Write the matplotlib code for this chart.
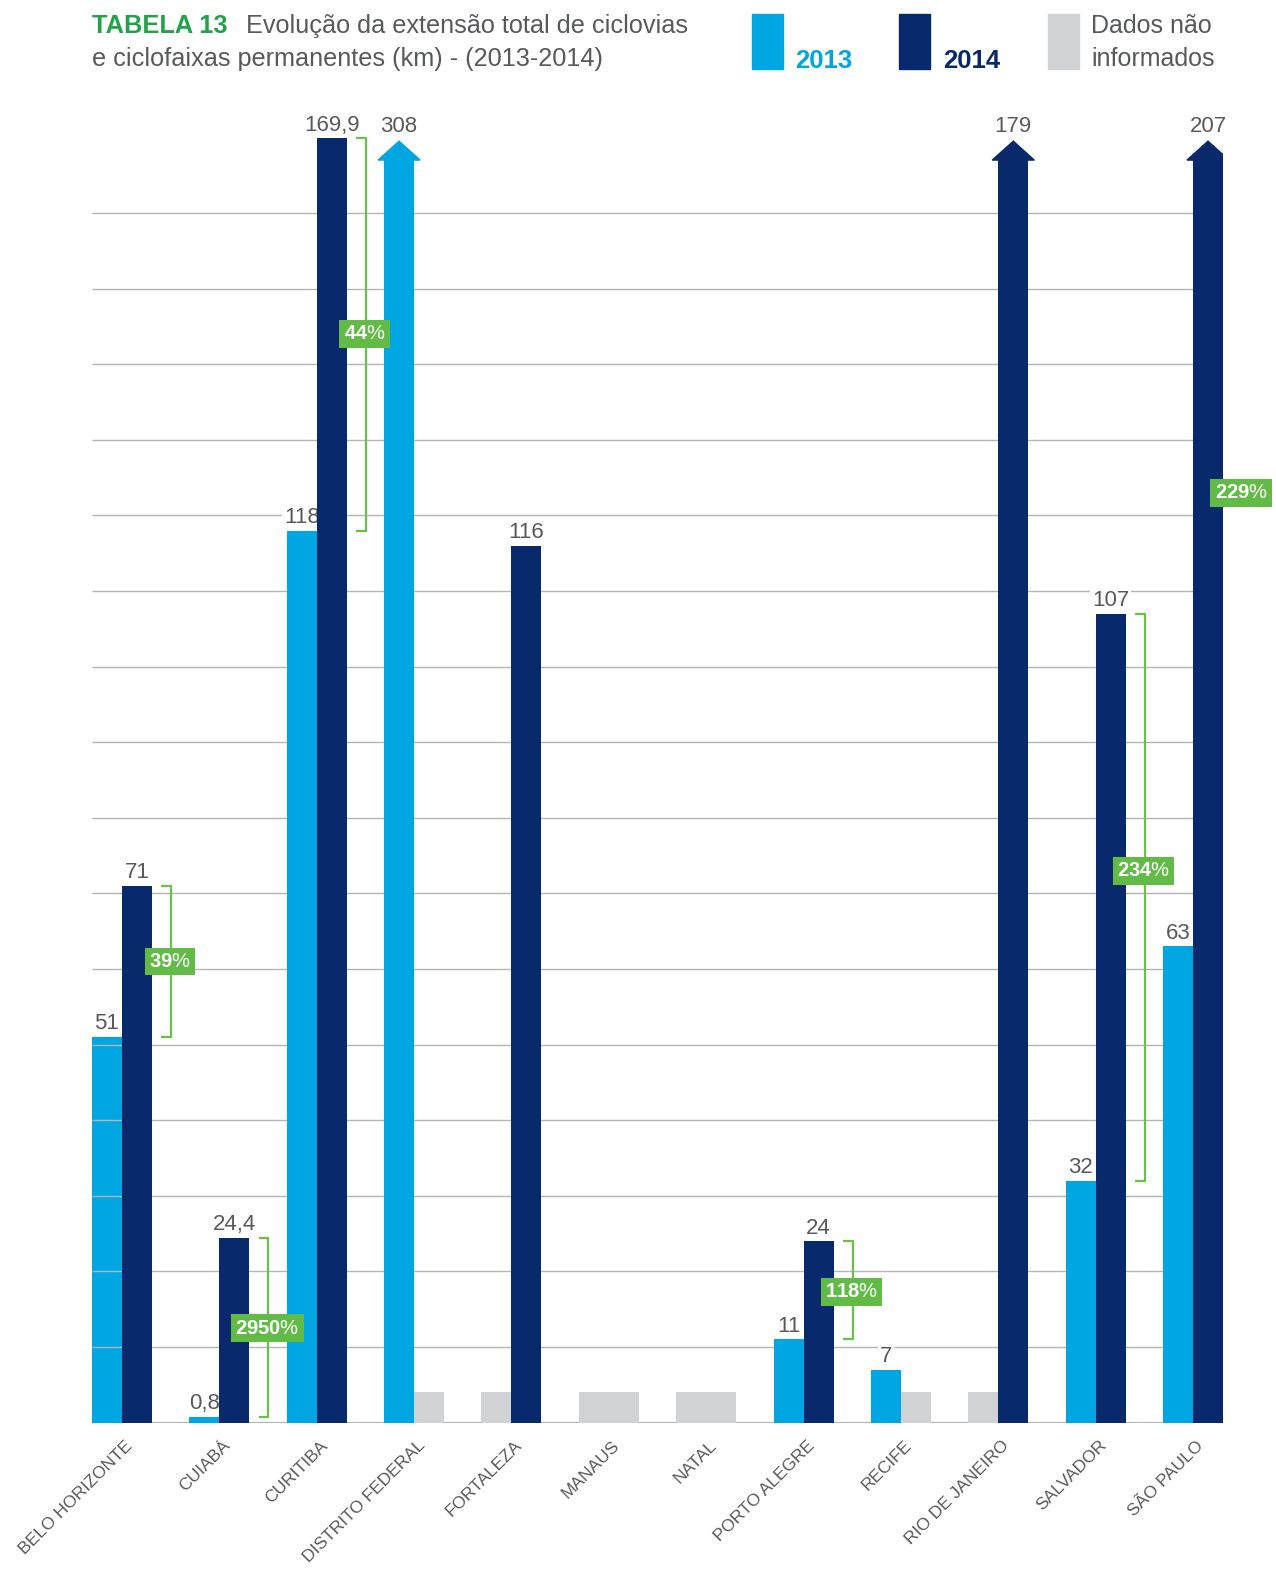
import numpy as np
import matplotlib.pyplot as plt
from matplotlib.patches import Rectangle, Polygon
from matplotlib.transforms import ScaledTranslation

plt.rcParams['font.family'] = ['Liberation Sans', 'DejaVu Sans']
plt.rcParams['mathtext.fontset'] = 'custom'
plt.rcParams['mathtext.rm'] = 'Liberation Sans'
plt.rcParams['mathtext.bf'] = 'Liberation Sans:bold'

cidades = ['BELO HORIZONTE', 'CUIABÁ', 'CURITIBA', 'DISTRITO FEDERAL', 'FORTALEZA',
           'MANAUS', 'NATAL', 'PORTO ALEGRE', 'RECIFE', 'RIO DE JANEIRO',
           'SALVADOR', 'SÃO PAULO']
km_2013 = [51, 0.8, 118, 308, None, None, None, 11, 7, None, 32, 63]
km_2014 = [71, 24.4, 169.9, None, 116, None, None, 24, None, 179, 107, 207]
variacao = [39, 2950, 44, None, None, None, None, 118, None, None, 234, 229]
grade = list(range(10, 170, 10))

# layout
pos_pct = [61, 12.5, 144, None, None, None, None, 17.3, None, None, 73, 123]
limite = 170        # bars above this are cut...
teto = 167          # ...at this height, with an arrow head on top
sem_dado = 4        # height of the grey "no data" blocks
w = 0.308

AZUL = '#00a6e2'
MARINHO = '#082a6c'
CINZA = '#d1d2d4'
TEXTO = '#58595b'
VERDE = '#22a24a'
VERDE_CX = '#62bb47'
LINHA = '#b5b5b5'

W, H = 1276, 1570
fig = plt.figure(figsize=(W / 100, H / 100), dpi=100)
ax = fig.add_axes([92 / W, 0.09389, 1131 / W, 0.84267])
n = len(cidades)
x = np.arange(n)
ax.set_xlim(-w, n - 1 + w)
ax.set_ylim(0, 175)
for s in ax.spines.values():
    s.set_visible(False)
ax.set_yticks([])

ax.hlines(grade, -w, n - 1 + w, color=LINHA, lw=1.0, zorder=1)
ax.axhline(0, color=LINHA, lw=1.6, zorder=1)


def fmt(v):
    return (f'{v:g}').replace('.', ',')


for i in range(n):
    for serie, cor, dx, zb in ((km_2013, AZUL, -w, 2), (km_2014, MARINHO, 0, 3)):
        v = serie[i]
        if v is None:
            ax.bar(x[i] + dx, sem_dado, w, align='edge', color=CINZA, zorder=2)
            continue
        barra = ax.bar(x[i] + dx, v, w, align='edge', color=cor, zorder=zb)[0]
        topo = v
        if v > limite:
            barra.set_clip_path(Rectangle((x[i] + dx, 0), w, teto, transform=ax.transData))
            m = 0.062
            ax.add_patch(Polygon([[x[i] + dx - m, teto], [x[i] + dx + w + m, teto],
                                  [x[i] + dx + w / 2, teto + 2.5]], closed=True,
                                 color=cor, zorder=zb))
            topo = teto + 2.5
        ax.annotate(fmt(v), (x[i] + dx + w / 2, topo), xytext=(0, 5.5 if v <= limite else 6.5),
                    textcoords='offset points', ha='center', va='baseline',
                    fontsize=16, color=TEXTO, zorder=2.5,
                    bbox=dict(facecolor='white', edgecolor='none', pad=1.5))

# grid drawn over the first bar
ax.hlines([g for g in grade if g < km_2013[0]], -w, 0, color=LINHA, lw=1.0, zorder=2.2)

# brackets with the percentage change
for i in range(n):
    p = variacao[i]
    if p is None:
        continue
    xb = x[i] + 0.503
    lo = km_2013[i]
    hi = km_2014[i]
    kw = dict(color='#6cc04a', lw=1.6, zorder=4, solid_capstyle='butt')
    if hi > limite:
        ax.annotate('', xy=(xb, 166.7), xytext=(xb, lo),
                    arrowprops=dict(arrowstyle='->,head_length=0.7,head_width=0.4',
                                    color='#6cc04a', lw=1.6, shrinkA=0, shrinkB=0),
                    zorder=4)
        ax.plot([xb - 0.1, xb], [lo, lo], **kw)
    else:
        ax.plot([xb - 0.1, xb, xb, xb - 0.1], [hi, hi, lo, lo], **kw)
    ax.text(xb - 0.01, pos_pct[i], f'$\\mathbf{{{p}}}$%', ha='center', va='center',
            fontsize=14.5, color='white', zorder=5,
            bbox=dict(boxstyle='square,pad=0.22', facecolor=VERDE_CX, edgecolor='none'))

ax.set_xticks(x)
ax.set_xticklabels(cidades, rotation=45, ha='right', va='top', rotation_mode='anchor',
                   fontsize=12.5, color=TEXTO)
ax.tick_params(axis='x', length=0, pad=11)
for lbl in ax.get_xticklabels():
    lbl.set_transform(lbl.get_transform() + ScaledTranslation(0.03, 0, fig.dpi_scale_trans))

# title
fig.text(92 / W, 1 - 33 / H, 'TABELA 13', fontsize=18.3, fontweight='bold', color=VERDE,
         va='baseline')
fig.text(246 / W, 1 - 33 / H, 'Evolução da extensão total de ciclovias', fontsize=18.2,
         color=TEXTO, va='baseline')
fig.text(92 / W, 1 - 66 / H, 'e ciclofaixas permanentes (km) - (2013-2014)', fontsize=18.2,
         color=TEXTO, va='baseline')


# legend
def caixa(x0, x1, cor):
    fig.add_artist(Rectangle((x0 / W, 1 - 69 / H), (x1 - x0) / W, 55 / H,
                             transform=fig.transFigure, color=cor))


caixa(752, 783, AZUL)
fig.text(795 / W, 1 - 68 / H, '2013', fontsize=18.5, fontweight='bold', color=AZUL,
         va='baseline')
caixa(899, 930, MARINHO)
fig.text(943 / W, 1 - 68 / H, '2014', fontsize=18.5, fontweight='bold', color=MARINHO,
         va='baseline')
caixa(1048, 1079, CINZA)
fig.text(1091 / W, 1 - 33 / H, 'Dados não', fontsize=18, color=TEXTO, va='baseline')
fig.text(1091 / W, 1 - 66 / H, 'informados', fontsize=18, color=TEXTO, va='baseline')

fig.savefig('out.png', dpi=100, facecolor='white')
